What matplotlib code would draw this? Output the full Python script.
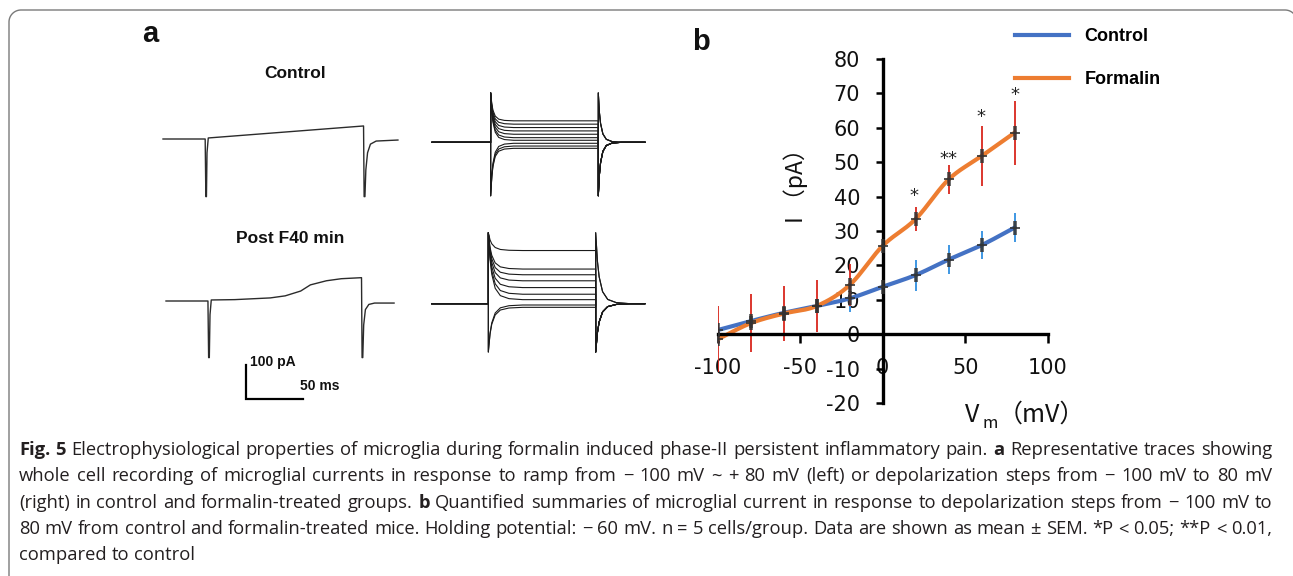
import numpy as np
import matplotlib
matplotlib.use("Agg")
import matplotlib.pyplot as plt
from matplotlib.font_manager import FontProperties
from matplotlib.lines import Line2D

plt.rcParams['axes.unicode_minus'] = False

W, H, DPI = 1293, 576, 100

# ---------------- panel b data ----------------
voltage = [-100, -80, -60, -40, -20, 0, 20, 40, 60, 80]
control_mean = [1.2, 3.8, 6.2, 8.2, 10.4, 13.8, 17.2, 21.7, 25.9, 31.0]
control_sem = [1.5, 1.5, 1.5, 1.8, 4.0, 4.8, 4.5, 4.2, 4.0, 4.2]
formalin_mean = [-1.5, 3.2, 6.0, 8.2, 14.3, 25.7, 33.5, 45.0, 51.8, 58.6]
formalin_sem = [9.6, 8.4, 8.0, 7.5, 6.2, 5.0, 3.5, 4.3, 8.6, 9.3]
star_v = [19, 40, 59.5, 80]
star_y = [41, 52, 64.2, 70.4]
star_text = ["*", "**", "*", "*"]
x_ticks = [-100, -50, 0, 50, 100]
y_ticks = [-20, -10, 0, 10, 20, 30, 40, 50, 60, 70, 80]
series_names = ["Control", "Formalin"]

# ---------------- panel a data (ms, pA relative to baseline) ----------------
ramp_ctrl_t = [0, 36.8, 37.4, 37.9, 38.4, 39.5, 175.0, 175.5, 176.2, 177.0, 178.5, 181, 186, 205]
ramp_ctrl_i = [0, 0, -168, -168, -40, 3, 38, -168, -168, -90, -40, -15, -6, -3]
ramp_post_t = [0, 36.6, 37.2, 37.8, 38.4, 39.5, 60, 91, 104, 117.5, 126, 140, 153, 170.6,
               171.1, 171.7, 172.5, 174, 177, 182, 199]
ramp_post_i = [0, 0, -165, -165, -40, 3, 4, 9, 15, 29, 47, 59, 65, 68,
               -165, -165, -70, -25, -10, -6, -6]
step_levels_ctrl = [62.6, 52.9, 43.0, 33.2, 23.5, 13.5, 5.9, -2.9, -10.9, -17.6]
step_levels_post = [155, 101, 84.4, 66.8, 47, 27.6, 11.8, -3.8, -10.6]
step_ctrl_times = [51.2, 145.1, 185.9]     # on, off, end
step_post_times = [49.4, 143.1, 186.0]
spike_ctrl = [144, -156]                   # top, bottom
spike_post = [207, -141]
decay_t = [0, 1, 2, 4, 7, 12, 20]
decay_f = [1, 0.6, 0.38, 0.17, 0.06, 0.015, 0]

fig = plt.figure(figsize=(W / DPI, H / DPI), dpi=DPI)
fig.patch.set_facecolor('white')


def fx(px):
    return px / W


def fy(py):
    return 1 - py / H


# ---------------- frame (rounded corners, open to the bottom) ----------------
FR_L, FR_T, FR_R, FR_BOT, FR_RAD = 9, 10, 1297, 600, 12
ang_l = np.linspace(np.pi, np.pi / 2, 20)
ang_r = np.linspace(np.pi / 2, 0, 20)
frame_x = np.concatenate([[FR_L], FR_L + FR_RAD + FR_RAD * np.cos(ang_l),
                          FR_R - FR_RAD + FR_RAD * np.cos(ang_r), [FR_R]])
frame_y = np.concatenate([[FR_BOT], FR_T + FR_RAD - FR_RAD * np.sin(ang_l),
                          FR_T + FR_RAD - FR_RAD * np.sin(ang_r), [FR_BOT]])
fig.add_artist(Line2D(frame_x / W, 1 - frame_y / H, transform=fig.transFigure,
                      color='#7a7a7a', lw=1.0, clip_on=False))

# ---------------- panel a ----------------
PX_PER_MS = 57.3 / 50
PX_PER_PA = 34.3 / 100
A_L, A_R, A_T, A_B = 150, 660, 60, 410
ax_a = fig.add_axes([fx(A_L), fy(A_B), (A_R - A_L) / W, (A_B - A_T) / H])
ax_a.set_xlim(0, (A_R - A_L) / PX_PER_MS)
ax_a.set_ylim(0, (A_B - A_T) / PX_PER_PA)
ax_a.axis('off')


def to_data(px, py):
    return (px - A_L) / PX_PER_MS, (A_B - py) / PX_PER_PA


def draw_trace(t, i, origin, **kw):
    x0, y0 = to_data(*origin)
    ax_a.plot(np.asarray(t) + x0, np.asarray(i) + y0, **kw)


trace_kw = dict(color='#2b2b2b', lw=1.0, solid_joinstyle='round')
draw_trace(ramp_ctrl_t, ramp_ctrl_i, (163, 139), **trace_kw)
draw_trace(ramp_post_t, ramp_post_i, (166, 301), **trace_kw)


def step_trace(level, times, spikes, tscale):
    t_on, t_off, t_end = times
    top, bot = spikes
    p_on = top if level >= 0 else bot
    p_off = bot if level >= 0 else top
    t = [0, t_on]
    v = [0, 0]
    for dt, f in zip(decay_t, decay_f):
        t.append(t_on + dt * tscale)
        v.append(level + (p_on - level) * f)
    t.append(t_off)
    v.append(level)
    for dt, f in zip(decay_t, decay_f):
        t.append(t_off + dt * tscale)
        v.append(p_off * f)
    t.append(t_end)
    v.append(0)
    return t, v


step_kw = dict(color='#1a1a1a', lw=0.8)
for lev in step_levels_ctrl:
    t, v = step_trace(lev, step_ctrl_times, spike_ctrl, 1.0)
    draw_trace(t, v, (432, 142.3), **step_kw)
for lev in step_levels_post:
    t, v = step_trace(lev, step_post_times, spike_post, 1.5)
    draw_trace(t, v, (431.7, 303.7), **step_kw)

# scale bar
sx, sy = to_data(246, 399)
ax_a.plot([sx, sx, sx + 50], [sy + 100, sy, sy], color='black', lw=1.6,
          solid_joinstyle='miter')

bold_a = dict(family='Liberation Sans', weight='bold', color='#111111')
fig.text(fx(250), fy(362), "100 pA", ha='left', va='center', size=10, **bold_a)
fig.text(fx(300), fy(386), "50 ms", ha='left', va='center', size=10, **bold_a)
fig.text(fx(294.7), fy(73.3), "Control", ha='center', va='center', size=12.5, **bold_a)
fig.text(fx(290.5), fy(238.3), "Post F40 min", ha='center', va='center', size=12.5, **bold_a)
fig.text(fx(150.5), fy(34), "a", ha='center', va='center', size=21, **bold_a)
fig.text(fx(700.5), fy(42), "b", ha='center', va='center', size=21, **bold_a)

# ---------------- panel b ----------------
B_L, B_R, B_T, B_B = 717.7, 1047.7, 59, 403
ax_b = fig.add_axes([fx(B_L), fy(B_B), (B_R - B_L) / W, (B_B - B_T) / H])
ax_b.set_xlim(-100, 100)
ax_b.set_ylim(-20, 80)
ax_b.patch.set_alpha(0)
for s in ['top', 'right']:
    ax_b.spines[s].set_visible(False)
ax_b.spines['left'].set_position(('data', 0))
ax_b.spines['bottom'].set_position(('data', 0))
for s in ['left', 'bottom']:
    ax_b.spines[s].set_linewidth(2.4)
    ax_b.spines[s].set_color('black')
ax_b.set_xticks(x_ticks)
ax_b.set_yticks(y_ticks)
ax_b.set_xticklabels([str(v) for v in x_ticks])
ax_b.set_yticklabels([str(v) for v in y_ticks])
ax_b.tick_params(axis='y', direction='out', length=5.3, width=1.8, pad=11, labelsize=15)
ax_b.tick_params(axis='x', direction='out', length=6.3, width=1.8, pad=11, labelsize=15)
for lab in ax_b.get_xticklabels() + ax_b.get_yticklabels():
    lab.set_family('DejaVu Sans')
    lab.set_color('#111111')


def smooth(xs, ys, n=40):
    P = np.column_stack([xs, ys]).astype(float)
    P = np.vstack([P[0], P, P[-1]])
    t = np.linspace(0, 1, n, endpoint=False)[:, None]
    out = []
    for k in range(1, len(P) - 2):
        p0, p1, p2, p3 = P[k - 1], P[k], P[k + 1], P[k + 2]
        seg = 0.5 * (2 * p1 + (-p0 + p2) * t + (2 * p0 - 5 * p1 + 4 * p2 - p3) * t ** 2
                     + (-p0 + 3 * p1 - 3 * p2 + p3) * t ** 3)
        out.append(seg)
    out.append(P[-2][None, :])
    S = np.vstack(out)
    return S[:, 0], S[:, 1]


c_blue, c_orange = '#4472C4', '#ED7D31'
xs, ys = smooth(voltage, control_mean)
ax_b.plot(xs, ys, color=c_blue, lw=3.0, solid_capstyle='round', zorder=2)
xs, ys = smooth(voltage, formalin_mean)
ax_b.plot(xs, ys, color=c_orange, lw=3.0, solid_capstyle='round', zorder=2.1)

ax_b.errorbar(voltage, control_mean, yerr=control_sem, fmt='none', ecolor='#2f8fe0',
              elinewidth=1.3, capsize=0, zorder=2.2)
ax_b.errorbar(voltage, formalin_mean, yerr=formalin_sem, fmt='none', ecolor='#d9261c',
              elinewidth=1.3, capsize=0, zorder=2.3)
for m in (control_mean, formalin_mean):
    ax_b.plot(voltage, m, ls='none', marker='|', ms=10, mew=2.6, color='#333333',
              alpha=0.85, zorder=2.6)
    ax_b.plot(voltage, m, ls='none', marker='_', ms=7, mew=1.4, color='#333333',
              alpha=0.85, zorder=2.6)

for sv, syv, st in zip(star_v, star_y, star_text):
    ax_b.text(sv, syv - 2.4, st, ha='center', va='baseline', size=13,
              family='DejaVu Sans', color='#222222')

handles = [Line2D([], [], color=c_blue, lw=3.0), Line2D([], [], color=c_orange, lw=3.0)]
ax_b.legend(handles, series_names, loc='upper left', bbox_to_anchor=(fx(1015), fy(28)),
            bbox_transform=fig.transFigure, frameon=False,
            prop=FontProperties(family='Liberation Sans', weight='bold', size=13),
            handlelength=3.0, handletextpad=0.85, labelspacing=1.45,
            borderaxespad=0, borderpad=0)

cjk = ['Noto Sans CJK SC', 'DejaVu Sans']
fig.text(fx(796), fy(180), "I （pA）", rotation=90, ha='center', va='center',
         size=16.5, family=cjk, color='#111111')
fig.text(fx(965), fy(422), "V", ha='left', va='baseline', size=18, family=cjk, color='#111111')
fig.text(fx(982), fy(428), "m", ha='left', va='baseline', size=12, family=cjk, color='#111111')
fig.text(fx(998), fy(422), "（mV）", ha='left', va='baseline', size=18, family=cjk,
         color='#111111')

# ---------------- caption ----------------
caption_lines = [
    [("Fig. 5", True), ("Electrophysiological properties of microglia during formalin induced "
                        "phase-II persistent inflammatory pain.", False), ("a", True),
     ("Representative traces showing", False)],
    [("whole cell recording of microglial currents in response to ramp from − 100 mV ~ + 80 mV "
      "(left) or depolarization steps from − 100 mV to 80 mV", False)],
    [("(right) in control and formalin-treated groups.", False), ("b", True),
     ("Quantified summaries of microglial current in response to depolarization steps from "
      "− 100 mV to", False)],
    [("80 mV from control and formalin-treated mice. Holding potential: − 60 mV. n = 5 "
      "cells/group. Data are shown as mean ± SEM. *P < 0.05; **P < 0.01,", False)],
    [("compared to control", False)],
]
cap_baselines = [455, 481.3, 507.6, 534, 560.3]
CAP_X0, CAP_X1 = 19, 1272
cap_font = 'Open Sans'
CAP_SIZE = 10.0
renderer = fig.canvas.get_renderer()


def tok(line):
    out = []
    for text, b in line:
        for w in text.split(' '):
            if w:
                out.append((w, b))
    return out


rows = []
for li, line in enumerate(caption_lines):
    row = []
    for w, b in tok(line):
        t = fig.text(0, fy(cap_baselines[li]), w, ha='left', va='baseline', size=CAP_SIZE,
                     family=cap_font, weight='bold' if b else 'normal', color='#231f20')
        row.append(t)
    rows.append(row)


def ext_w(t):
    return t.get_window_extent(renderer).width


def space_w(size):
    p1 = fig.text(0, 0, "a a", size=size, family=cap_font)
    p2 = fig.text(0, 0, "aa", size=size, family=cap_font)
    s = ext_w(p1) - ext_w(p2)
    p1.remove()
    p2.remove()
    return s


# fit the font size so that the justified lines have natural word spacing
sp = space_w(CAP_SIZE)
naturals = [sum(ext_w(t) for t in row) + sp * (len(row) - 1) for row in rows[:4]]
scale = (CAP_X1 - CAP_X0) / max(naturals)
size = CAP_SIZE * scale
for row in rows:
    for t in row:
        t.set_size(size)
sp = space_w(size)

for li, row in enumerate(rows):
    ws = [ext_w(t) for t in row]
    if li < 4:
        gap = (CAP_X1 - CAP_X0 - sum(ws)) / (len(row) - 1)
    else:
        gap = sp
    x = CAP_X0
    for t, wd in zip(row, ws):
        t.set_x(fx(x))
        x += wd + gap

fig.savefig('out.png', dpi=DPI)
